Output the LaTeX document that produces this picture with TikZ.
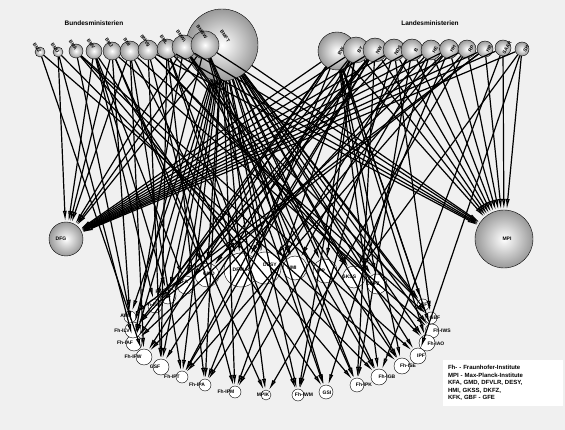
\documentclass[tikz,border=0pt]{standalone}
\usepackage{fontspec}
\setmainfont{Liberation Sans}
\usetikzlibrary{arrows.meta}

\definecolor{bgcol}{RGB}{240,240,240}

\begin{document}
\begin{tikzpicture}[
  x=1pt, y=-1pt,
  lbl/.style={font=\fontsize{5}{5.5}\selectfont\bfseries, inner sep=0pt},
  tlbl/.style={font=\fontsize{4.8}{5}\selectfont\bfseries, inner sep=0pt},
  ttl/.style={font=\fontsize{6.5}{7}\selectfont\bfseries, inner sep=0pt},
  ball/.style={circle, draw=black, inner sep=0pt, inner color=white, outer color=gray!80},
  inst/.style={circle, draw=black, fill=white, inner sep=0pt},
  edge/.style={-{Latex[length=11pt,width=4pt,fill=gray!55]}, line width=1.2pt}
]
  \fill[bgcol] (0,0) rectangle (565,430);
  \useasboundingbox (0,0) rectangle (565,430);

  \node[ttl] (bund) at (94,23) {Bundesministerien};
  \node[ttl] (land) at (430,23) {Landesministerien};

  % Bundesministerien
  \node[ball, minimum size=72pt] (b11) at (222,45) {};
  \node[tlbl, rotate=-55] (b11-t) at (225,36) {BMFT};
  \foreach \n/\x/\y/\r/\t in {b1/40/52/5/BMZ, b2/58/52/5/BMU, b3/76/51/7/BMA,
      b4/94/51/8/BMV, b5/112/51/9/BMJ, b6/130/51/10/BMI, b7/148/50/10/BMVg,
      b8/167/49/10/BML, b9/184/47/12/BMWi, b10/205/45/14/BMBW} {
    \node[ball, minimum size={2*\r*1pt}] (\n) at (\x,\y) {};
    \node[tlbl, rotate=-55] (\n-t) at ({\x-3},{\y-\r+1}) {\t};
  }

  % Landesministerien
  \foreach \n/\x/\y/\r/\t in {l1/337/51/19/BW, l2/356/50/13/BY, l3/375/50/12/NW,
      l4/394/50/11/NDS, l5/412/50/11/B, l6/431/50/10/HE, l7/449/49/9.5/HH,
      l8/467/49/9/RP, l9/485/49/8/HB, l10/503/48/8/SAAR, l11/522/49/7/SH} {
    \node[ball, minimum size={2*\r*1pt}] (\n) at (\x,\y) {};
    \node[tlbl, rotate=60] (\n-t) at ({\x+4},\y) {\t};
  }

  \node[ball, minimum size=34pt] (dfg) at (66,239) {};
  \node[lbl] (dfg-t) at (61,239) {DFG};
  \node[ball, minimum size=58pt] (mpi) at (504,239) {};
  \node[lbl] (mpi-t) at (507,239) {MPI};

  % Forschungseinrichtungen
  \foreach \n/\x/\y/\r/\t/\dx/\dy in {
      gmd/207/275/12/GMD/2/-1, dfvlr/241/270/17/DFVLR/0/0, desy/265/268/16/DESY/5/-3,
      hmi/295/268/12/HMI/-3/0, ipp/325/271/12/IPP/-4/0, gkss/354/277/11/GKSS/-5/0,
      dkfz/377/284/10/DKFZ/-4/0, kfk/423/305/6/KFK/3/0, gbf/431/318/6/GBF/4/0,
      fhiws/432/331/7/Fh-IWS/10/0, fhiao/427/343/8/Fh-IAO/9/1, ipf/418/356/8/IPF/3/0,
      fhise/402/366/8/Fh-ISE/6/0, fhigb/379/377/8/Fh-IGB/8/0, fhipk/357/385/7/Fh-IPK/7/0,
      gsi/326/392/7/GSI/1/1, fhiwm/298/395/6/Fh-IWM/6/0, mpik/266/395/5/MPIK/-3/0,
      fhipm/235/392/6/Fh-IPM/-9/0, fhipa/205/385/6/Fh-IPA/-8/0, fhipt/182/377/6/Fh-IPT/-10/0,
      gsf/161/367/8/GSF/-6/0, fhifw/144/357/8/Fh-IFW/-11/0, fhiaf/134/343/8/Fh-IAF/-9/0,
      fhilv/133/330/8/Fh-ILV/-11/1, awi/130/317/6/AWI/-5/-1, fhict/155/306/7/Fh-ICT/-2/-1,
      fhilt/168/296/8/Fh-ILT/-5/-4, kfa/186/285/9/KFA/-3/-3} {
    \node[inst, minimum size={2*\r*1pt}] (\n) at (\x,\y) {};
    \node[lbl] (\n-t) at ({\x+\dx},{\y+\dy}) {\t};
  }

  % Verbindungen
  \foreach \s/\tl in {
      b11/{dfg,mpi,kfa,gmd,dfvlr,desy,hmi,ipp,gkss,dkfz,kfk,gbf,awi,gsf,gsi,mpik,fhilt,
           fhict,fhiaf,fhipt,fhipa,fhipm,fhiwm,fhipk,fhigb,fhise,fhiao,fhiws,ipf},
      b10/{dfg,mpi,desy,hmi,fhilv,fhipk,gsi},
      b9/{dfg,mpi,gkss,fhiaf,fhise,fhigb},
      b8/{mpi,dfvlr,kfk,fhipa,fhiwm,gsf},
      b7/{mpi,gsf,dkfz,fhipm,fhiao},
      b6/{dfg,dfvlr,fhifw,fhipt,gbf},
      b5/{dfg,awi,mpik,fhiws,gmd},
      b4/{dfg,fhilt,fhict,gsi,kfa},
      b3/{fhilv,fhipk,ipf,hmi},
      b2/{dfg,fhiaf,fhigb},
      b1/{fhifw,fhise},
      l1/{dfg,mpi,kfk,dkfz,fhiaf,fhipa,fhise,fhiao,fhigb,fhiws,fhict,fhifw},
      l2/{dfg,mpi,ipp,gsf,fhipm,fhiwm,fhilv,fhipt},
      l3/{dfg,mpi,kfa,gmd,dfvlr,fhilt,fhipt,fhipk},
      l4/{dfg,mpi,gbf,fhiwm,fhilv},
      l5/{dfg,mpi,hmi,fhipk,fhipa},
      l6/{dfg,mpi,gsi,fhifw,fhipm},
      l7/{dfg,mpi,desy,gkss,fhiaf},
      l8/{dfg,mpi,fhipt,mpik},
      l9/{dfg,mpi,awi,fhict},
      l10/{mpi,dfg,fhigb},
      l11/{mpi,dfg,gkss,ipf}} {
    \foreach \t in \tl
      \draw[edge] (\s) -- (\t);
  }

  \node[fill=white, inner sep=5pt, text width=110pt, align=left,
        font=\fontsize{6}{7.5}\selectfont\bfseries] (legende) at (503,383)
    {Fh- - Fraunhofer-Institute\\MPI - Max-Planck-Institute\\KFA, GMD, DFVLR, DESY,\\HMI, GKSS, DKFZ,\\KFK, GBF - GFE};
\end{tikzpicture}
\end{document}
